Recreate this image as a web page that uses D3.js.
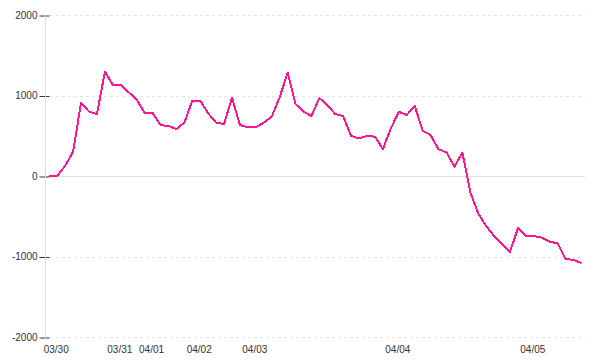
<!DOCTYPE html>
<html>
<head>
<meta charset="utf-8">
<script src="https://cdn.jsdelivr.net/npm/d3@7"></script>
<style>
  body { margin: 0; background: #fff; }
  text { font-family: "Liberation Sans", Arial, sans-serif; font-size: 10px; fill: #333; }
</style>
</head>
<body>
<svg id="chart" width="600" height="360"></svg>
<script>
// values, one per point
const values = [
  0, 0, 128, 302, 911, 800, 770, 1296, 1130, 1130,
  1040, 950, 785, 785, 633, 621, 584, 662, 935, 935,
  778, 662, 646, 972, 633, 605, 605, 662, 737, 977,
  1283, 894, 800, 745, 969, 880, 770, 745, 497, 468,
  497, 488, 335, 592, 798, 758, 873, 563, 509, 332,
  294, 116, 290, -200, -466, -621, -745, -845, -940, -650,
  -745, -745, -766, -816, -838, -1031, -1043, -1081
]
// date labels and the point they sit under
const xLabels = ["03/30", "03/31", "04/01", "04/02", "04/03", "04/04", "04/05"]
const xLabelIndex = [1, 9, 13, 19, 26, 44, 61]
const yTicks = [-2000, -1000, 0, 1000, 2000]
const yTickLabels = ["-2000", "-1000", "0", "1000", "2000"]

const svg = d3.select("#chart")
const axisX = 45, plotRight = 585

const x = d3.scalePoint()
  .domain(d3.range(values.length))
  .range([49.3, 581.5])
const y = d3.scaleLinear()
  .domain([-2000, 2000])
  .range([337, 15])

// gridlines
svg.append("g").selectAll("line")
  .data(yTicks.filter(d => d != 0))
  .join("line")
  .attr("x1", 50).attr("x2", plotRight)
  .attr("y1", d => Math.round(y(d)) + 0.5).attr("y2", d => Math.round(y(d)) + 0.5)
  .attr("stroke", "#e6e6e6")
  .attr("stroke-dasharray", "3,3")

svg.append("line")
  .attr("x1", axisX).attr("x2", plotRight)
  .attr("y1", Math.round(y(0)) + 0.5).attr("y2", Math.round(y(0)) + 0.5)
  .attr("stroke", "#ddd")

// y axis: ticks first, the pale axis line over them
const yAxis = d3.axisLeft(y)
  .tickValues(yTicks)
  .tickFormat((d, i) => yTickLabels[i])
  .tickSize(0)
  .tickPadding(8)
const gy = svg.append("g")
  .attr("transform", `translate(${axisX + 0.5},0)`)
  .call(yAxis)
gy.select(".domain").remove()
gy.selectAll(".tick text").attr("font-family", null).attr("font-size", null)
gy.selectAll(".tick").append("line")
  .attr("x1", -6).attr("x2", 4)
  .attr("y1", 0.5).attr("y2", 0.5)
  .attr("stroke", "#333")
gy.append("line")
  .attr("x1", 0).attr("x2", 0)
  .attr("y1", 15).attr("y2", 340)
  .attr("stroke", "#ddd")

// x labels
svg.append("g").selectAll("text")
  .data(xLabels)
  .join("text")
  .attr("x", (d, i) => x(xLabelIndex[i]) - 1)
  .attr("y", 353)
  .attr("text-anchor", "middle")
  .text(d => d)

// the series
const line = d3.line()
  .x((d, i) => x(i))
  .y(d => y(d))
svg.append("path")
  .datum(values)
  .attr("d", line)
  .attr("fill", "none")
  .attr("stroke", "#ff1493")
  .attr("stroke-width", 2)
  .attr("stroke-linejoin", "round")
  .attr("shape-rendering", "crispEdges")
</script>
</body>
</html>
